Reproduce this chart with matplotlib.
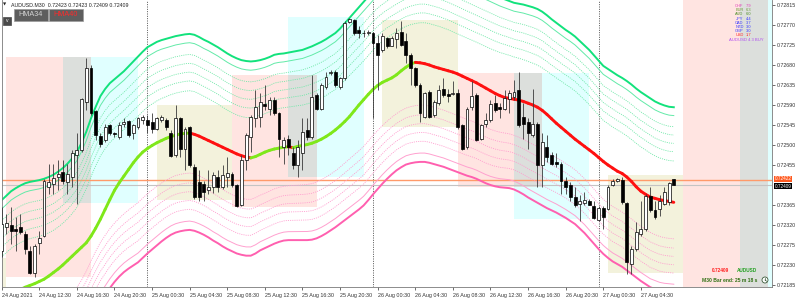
import numpy as np
import matplotlib
matplotlib.use("Agg")
import matplotlib.pyplot as plt
from matplotlib.patches import Rectangle, Ellipse
from matplotlib.collections import LineCollection
from matplotlib.transforms import blended_transform_factory
from matplotlib.lines import Line2D

plt.rcParams['font.family'] = ['Liberation Sans', 'DejaVu Sans']

# ---------------- data (prices in points, 1 point = 0.00001) ----------------
open_ = [72262,72316,72321,72311,72316,72300,72262,72213,72279,72296,
         72405,72413,72429,72439,72417,72428,72477,72488,72597,72674,
         72576,72520,72511,72545,72527,72518,72548,72554,72526,72541,
         72557,72556,72552,72537,72556,72556,72527,72477,72560,72492,
         72541,72450,72417,72413,72398,72405,72428,72405,72428,72435,
         72409,72366,72467,72518,72560,72563,72592,72582,72601,72571,
         72496,72514,72481,72454,72481,72533,72518,72612,72582,72631,
         72661,72665,72630,72650,72776,72782,72758,72752,72752,72752,
         72729,72714,72740,72723,72738,72755,72733,72703,72673,72635,
         72563,72620,72567,72594,72627,72614,72615,72618,72545,72496,
         72586,72612,72514,72547,72556,72594,72585,72582,72603,72609,
         72624,72563,72552,72522,72548,72454,72496,72477,72462,72458,
         72420,72409,72383,72368,72369,72374,72362,72332,72359,72356,
         72409,72420,72422,72369,72232,72266,72300,72311,72386,72354,
         72356,72368,72371,72423]
high = [72360,72345,72360,72338,72345,72307,72273,72277,72307,72424,
        72458,72458,72466,72466,72458,72488,72526,72605,72695,72680,
        72579,72526,72548,72548,72530,72552,72560,72556,72548,72563,
        72567,72567,72571,72563,72567,72560,72533,72590,72563,72541,
        72542,72458,72443,72420,72443,72439,72443,72454,72473,72439,
        72413,72477,72526,72567,72624,72616,72635,72609,72609,72575,
        72518,72522,72496,72511,72560,72560,72658,72616,72639,72665,
        72669,72669,72654,72778,72786,72783,72767,72759,72759,72755,
        72748,72752,72744,72746,72763,72778,72752,72707,72676,72639,
        72620,72624,72601,72635,72650,72627,72643,72627,72548,72586,
        72643,72616,72548,72571,72601,72612,72594,72624,72624,72646,
        72665,72594,72560,72627,72552,72526,72522,72484,72481,72462,
        72428,72417,72405,72387,72394,72379,72375,72362,72362,72409,
        72424,72426,72428,72371,72273,72326,72375,72390,72405,72375,
        72387,72405,72417,72423]
low = [72247,72300,72277,72262,72300,72255,72210,72202,72255,72292,
       72390,72390,72398,72413,72390,72405,72368,72484,72579,72567,
       72511,72496,72507,72522,72518,72514,72541,72518,72514,72537,
       72548,72526,72526,72533,72552,72533,72473,72473,72473,72443,
       72450,72379,72375,72375,72390,72392,72394,72402,72405,72405,
       72360,72362,72443,72484,72541,72541,72579,72567,72567,72473,
       72458,72477,72447,72428,72443,72511,72514,72579,72579,72627,
       72658,72631,72627,72646,72774,72748,72740,72744,72748,72560,
       72624,72710,72718,72722,72718,72722,72684,72635,72631,72552,
       72560,72560,72563,72590,72609,72597,72612,72537,72488,72492,
       72579,72509,72511,72541,72552,72575,72560,72579,72571,72601,
       72541,72514,72492,72518,72405,72405,72462,72454,72450,72390,
       72390,72375,72360,72330,72364,72364,72334,72330,72311,72353,
       72407,72417,72368,72210,72210,72262,72296,72307,72349,72334,
       72341,72364,72366,72409]
close = [72322,72324,72306,72307,72305,72266,72213,72273,72291,72420,
         72417,72426,72435,72420,72435,72481,72488,72603,72673,72571,
         72522,72503,72541,72526,72524,72545,72552,72522,72545,72560,
         72563,72545,72537,72560,72563,72541,72475,72560,72492,72537,
         72454,72383,72383,72394,72405,72432,72405,72432,72437,72409,
         72362,72467,72522,72563,72586,72597,72588,72601,72571,72514,
         72511,72496,72454,72496,72530,72518,72609,72582,72635,72654,
         72665,72635,72650,72774,72783,72752,72753,72751,72755,72729,
         72703,72746,72722,72740,72752,72725,72703,72673,72635,72571,
         72616,72563,72597,72624,72612,72611,72618,72541,72492,72582,
         72610,72511,72545,72557,72592,72579,72580,72605,72616,72620,
         72545,72548,72526,72548,72454,72507,72473,72458,72457,72420,
         72405,72383,72364,72375,72377,72366,72336,72359,72338,72405,
         72420,72423,72371,72236,72266,72304,72311,72386,72354,72338,
         72375,72394,72414,72409]

hma = [72158,72162,72166,72170,72175,72180,72184,72188,72193,72198,
       72205,72213,72221,72230,72240,72250,72260,72270,72280,72295,
       72313,72333,72355,72377,72398,72415,72430,72445,72460,72473,
       72484,72492,72499,72505,72510,72515,72519,72522,72525,72526,
       72527,72524,72520,72515,72510,72505,72500,72495,72490,72485,
       72480,72476,72473,72471,72474,72479,72484,72488,72491,72493,
       72495,72496,72494,72497,72499,72501,72504,72508,72513,72519,
       72526,72534,72543,72553,72564,72577,72590,72602,72614,72625,
       72634,72641,72646,72651,72658,72667,72675,72682,72686,72685,
       72683,72680,72676,72673,72670,72667,72664,72660,72655,72650,
       72645,72640,72634,72628,72622,72616,72611,72607,72605,72603,
       72601,72598,72594,72590,72585,72578,72569,72559,72549,72540,
       72531,72522,72513,72505,72497,72489,72481,72472,72463,72455,
       72448,72441,72436,72428,72418,72406,72396,72389,72383,72380,
       72377,72375,72373,72371]
band_upper = [72376,72386,72396,72403,72409,72414,72417,72419,72421,72424,
              72428,72433,72440,72448,72458,72470,72484,72505,72530,72560,
              72586,72610,72626,72639,72648,72657,72666,72677,72688,72699,
              72710,72720,72726,72732,72736,72739,72742,72745,72747,72749,
              72750,72748,72743,72737,72732,72726,72720,72713,72706,72700,
              72695,72691,72689,72688,72689,72691,72694,72698,72703,72705,
              72706,72708,72710,72712,72714,72718,72722,72727,72732,72738,
              72745,72752,72762,72774,72786,72798,72810,72822,72834,72846,
              72856,72864,72871,72877,72883,72889,72894,72898,72901,72903,
              72903,72901,72898,72895,72891,72887,72882,72877,72872,72867,
              72862,72857,72852,72847,72842,72837,72832,72828,72824,72820,
              72818,72816,72813,72810,72806,72800,72792,72783,72775,72767,
              72759,72752,72744,72734,72724,72714,72702,72690,72678,72671,
              72664,72657,72651,72644,72636,72627,72619,72612,72605,72598,
              72593,72589,72586,72585]
band_lower = [71936,71945,71953,71960,71966,71972,71977,71981,71985,71990,
              71995,72002,72010,72020,72030,72042,72055,72070,72088,72108,
              72128,72146,72162,72178,72192,72204,72214,72222,72229,72236,
              72246,72256,72265,72274,72283,72291,72298,72303,72306,72308,
              72309,72307,72303,72298,72292,72285,72279,72272,72266,72261,
              72256,72253,72251,72251,72256,72263,72268,72273,72278,72282,
              72285,72286,72286,72286,72286,72286,72287,72290,72295,72301,
              72308,72315,72323,72331,72339,72347,72355,72364,72376,72389,
              72401,72413,72424,72434,72443,72450,72456,72459,72461,72462,
              72462,72460,72457,72454,72451,72447,72443,72439,72435,72431,
              72428,72424,72419,72414,72410,72407,72405,72404,72403,72400,
              72395,72389,72382,72376,72370,72364,72358,72353,72348,72342,
              72336,72329,72322,72312,72302,72290,72278,72266,72255,72246,
              72238,72232,72226,72218,72210,72202,72194,72187,72180,72176,
              72172,72170,72169,72168]

# session boxes: kind, start bar, end bar, low, high (points)
sess_kind  = ['asia', 'london', 'ny', 'asia', 'london', 'ny', 'asia', 'london', 'ny', 'asia', 'london', 'ny']
sess_start = [-15, 1, 13, 33, 49, 61, 81, 97, 109, 129, 145, 157]
sess_end   = [1, 19, 29, 49, 67, 77, 97, 115, 125, 145, 163, 173]
sess_low   = [72100, 72203, 72369, 72376, 72360, 72428, 72540, 72405, 72334, 72212, 72000, 72000]
sess_high  = [72246, 72698, 72698, 72590, 72657, 72788, 72781, 72662, 72662, 72432, 73000, 73000]

day_sep_bars = [31, 79, 127]
xtick_bars = [0, 8, 16, 24, 32, 40, 48, 56, 64, 72, 80, 88, 96, 104, 112, 120, 128, 136]
xtick_labels = ['24 Aug 2021', '24 Aug 12:30', '24 Aug 16:30', '24 Aug 20:30',
                '25 Aug 00:30', '25 Aug 04:30', '25 Aug 08:30', '25 Aug 12:30',
                '25 Aug 16:30', '25 Aug 20:30', '26 Aug 00:30', '26 Aug 04:30',
                '26 Aug 08:30', '26 Aug 12:30', '26 Aug 16:30', '26 Aug 20:30',
                '27 Aug 00:30', '27 Aug 04:30']
# the 0.72410 level is hidden behind the price tags in the reference
ytick_values = [0.72185, 0.72230, 0.72275, 0.72320, 0.72365, 0.72455, 0.72500,
                0.72545, 0.72590, 0.72635, 0.72680, 0.72725, 0.72770, 0.72815]
ask_price = 0.72422
bid_price = 0.72409

strength_names = ['CHF', 'EUR', 'AUD', 'JPY', 'CAD', 'NZD', 'GBP', 'USD']
strength_values = [7.9, 6.3, 6.0, 4.4, 3.7, 3.0, 3.0, 1.7]
strength_colors = ['#e040b8', '#6a9a3a', '#4f8f2a', '#3a3aff', '#3a3aff', '#3a3aff', '#3a3aff', '#ff2a2a']

PT = 1e-5
o = np.array(open_) * PT
h = np.array(high) * PT
l = np.array(low) * PT
c = np.array(close) * PT
hm = np.array(hma) * PT
up = np.array(band_upper) * PT
lo = np.array(band_lower) * PT
n = len(o)
x = np.arange(n)

W, H = 799, 301
fig = plt.figure(figsize=(W / 100, H / 100), dpi=100)
fig.patch.set_facecolor('white')
ax = fig.add_axes([1.7 / W, 14 / H, 770 / W, 287 / H])
ax.set_xlim(0, 163.83)
ax.set_ylim(0.721805, 0.728263)
ax.set_facecolor('white')

# ---------------- session boxes ----------------
sess_color = {'asia': '#f3f2dc', 'london': '#ffe4e1', 'ny': '#e0ffff'}
for k, s, e, a, b in zip(sess_kind, sess_start, sess_end, sess_low, sess_high):
    ax.add_patch(Rectangle((s, a * PT), e - s, (b - a) * PT, facecolor=sess_color[k],
                           edgecolor='none', zorder=0))
lon = [(s, e, a, b) for k, s, e, a, b in zip(sess_kind, sess_start, sess_end, sess_low, sess_high) if k == 'london']
nys = [(s, e, a, b) for k, s, e, a, b in zip(sess_kind, sess_start, sess_end, sess_low, sess_high) if k == 'ny']
for (s1, e1, a1, b1) in lon:
    for (s2, e2, a2, b2) in nys:
        xs, xe = max(s1, s2), min(e1, e2)
        ya, yb = max(a1, a2), min(b1, b2)
        if xe > xs and yb > ya:
            ax.add_patch(Rectangle((xs, ya * PT), xe - xs, (yb - ya) * PT, facecolor='#dcdfdc',
                                   edgecolor='none', zorder=0.5))

# ---------------- day separators ----------------
for b in day_sep_bars:
    ax.axvline(b, color='#3a3a3a', lw=0.6, ls=(0, (1.2, 1.6)), zorder=1)

# ---------------- bands ----------------
mid = (up + lo) / 2
dotted_levels = [0.42, 0.52, 0.61, 0.70, 0.79]
for lv in dotted_levels:
    ax.plot(x, mid + lv * (up - mid), color='#6fe8a8', lw=0.6, ls=(0, (1.3, 1.3)), zorder=2)
    ax.plot(x, mid - lv * (up - mid), color='#ff9ccf', lw=0.6, ls=(0, (1.3, 1.3)), zorder=2)
ax.plot(x, mid + 0.91 * (up - mid), color='#62eaa8', lw=0.7, zorder=2)
ax.plot(x, mid - 0.91 * (up - mid), color='#ffa0cf', lw=0.7, zorder=2)
ax.plot(x, up, color='#12e27c', lw=1.4, zorder=2)
ax.plot(x, lo, color='#ff5faf', lw=1.4, zorder=2)

# ---------------- price lines ----------------
ax.axhline(bid_price, color='#c4c4c4', lw=0.8, zorder=1.5)
ax.axhline(ask_price, color='#ff9a6a', lw=1.0, zorder=1.5)

# ---------------- HMA ----------------
segs = [[(x[i], hm[i]), (x[i + 1], hm[i + 1])] for i in range(n - 1)]
cols = ['#ff1010' if hm[i + 1] < hm[i] else '#7fe81a' for i in range(n - 1)]
ax.add_collection(LineCollection(segs, colors=cols, linewidths=2.1, capstyle='round', zorder=3))

# ---------------- candles ----------------
ax.vlines(x, l, h, color='#3a3a3a', lw=0.6, zorder=4)
bull = c >= o
body_h = np.where(np.abs(c - o) < 1e-12, 1e-7, c - o)
ax.bar(x, body_h, bottom=o, width=0.62, color=np.where(bull, 'white', 'black'),
       edgecolor='black', linewidth=0.5, zorder=5)

# ---------------- axes styling ----------------
for sp in ['left', 'bottom', 'right']:
    ax.spines[sp].set_color('#7a7a7a')
    ax.spines[sp].set_linewidth(0.6)
ax.spines['top'].set_visible(False)
ax.yaxis.tick_right()
ax.set_yticks(ytick_values)
ax.set_yticklabels([f'{v:.5f}' for v in ytick_values])
ax.tick_params(axis='y', length=2, width=0.5, pad=1.5, labelsize=3.8, colors='#333333')
ax.set_xticks(xtick_bars)
ax.set_xticklabels(xtick_labels, ha='left')
ax.tick_params(axis='x', length=2, width=0.5, pad=2, labelsize=3.9, colors='#333333')

tr = blended_transform_factory(ax.transAxes, ax.transData)
ax.text(1.004, ask_price + 0.000018, f'{ask_price:.5f}', transform=tr, ha='left', va='center', fontsize=3.4,
        color='white', bbox=dict(boxstyle='square,pad=0.08', fc='#ff5a20', ec='none'), zorder=20, clip_on=False)
ax.text(1.004, bid_price - 0.000018, f'{bid_price:.5f}', transform=tr, ha='left', va='center', fontsize=3.4,
        color='white', bbox=dict(boxstyle='square,pad=0.08', fc='black', ec='none'), zorder=20, clip_on=False)

# ---------------- figure annotations ----------------
def fx(px):
    return px / W

def fy(py):
    return 1 - py / H

def fbox(x0, y0, x1, y1, fc, ec):
    fig.patches.append(Rectangle((fx(x0), fy(y1)), (x1 - x0) / W, (y1 - y0) / H,
                                 transform=fig.transFigure, facecolor=fc, edgecolor=ec, lw=0.5, zorder=10))

fig.text(fx(5), fy(5), '▼', fontsize=3, ha='center', va='center', color='#222222', family='DejaVu Sans')
fig.text(fx(11), fy(5.5), 'AUDUSD.M30  0.72423 0.72423 0.72409 0.72409', fontsize=3.8,
         ha='left', va='center', color='#222222')
fbox(14, 9, 48, 21, '#5e5e5e', '#9a9a9a')
fbox(49, 9, 83, 21, '#5e5e5e', '#9a9a9a')
fig.text(fx(31), fy(15), 'HMA34', fontsize=5.2, ha='center', va='center', color='#d4d4d4', zorder=11)
fig.text(fx(66), fy(15), 'HMA40', fontsize=5.2, ha='center', va='center', color='#ff2a2a', zorder=11)
fbox(3, 17, 11, 25, '#4a4a4a', '#4a4a4a')
fig.text(fx(7), fy(21), 'v', fontsize=3.6, ha='center', va='center', color='white', zorder=11)

for k, (nm, val, col) in enumerate(zip(strength_names, strength_values, strength_colors)):
    yy = 6 + 4.2 * k
    fig.text(fx(743.5), fy(yy), nm, fontsize=2.9, ha='right', va='center', color=col, zorder=11)
    fig.text(fx(745.5), fy(yy), f'{val:.1f}', fontsize=2.9, ha='left', va='center', color=col, zorder=11)
fig.text(fx(763.5), fy(39.6), 'AUDUSD 4.3 BUY', fontsize=3.0, ha='right', va='center', color='#b04cf0', zorder=11)

fig.text(fx(729.5), fy(270), f'{bid_price:.5f}', fontsize=3.4, weight='bold', ha='right', va='center',
         color='#ff2020', zorder=11)
fig.text(fx(737), fy(270), 'AUDUSD', fontsize=3.4, weight='bold', ha='left', va='center', color='#22a022', zorder=11)
fig.text(fx(757.5), fy(280), 'M30 Bar end: 25 m 18 s', fontsize=3.6, weight='bold', ha='right', va='center',
         color='#2f6f12', zorder=11)
fig.patches.append(Ellipse((fx(765), fy(280)), 6 / W, 6 / H, transform=fig.transFigure,
                           facecolor='white', edgecolor='#3a5a3a', lw=0.6, zorder=12))
fig.lines.append(Line2D([fx(765), fx(765)], [fy(280), fy(277.8)], transform=fig.transFigure,
                        color='#3a5a3a', lw=0.5, zorder=13))
fig.lines.append(Line2D([fx(765), fx(766.6)], [fy(280), fy(281.2)], transform=fig.transFigure,
                        color='#3a5a3a', lw=0.5, zorder=13))

fig.savefig('out.png', dpi=100, facecolor='white')
